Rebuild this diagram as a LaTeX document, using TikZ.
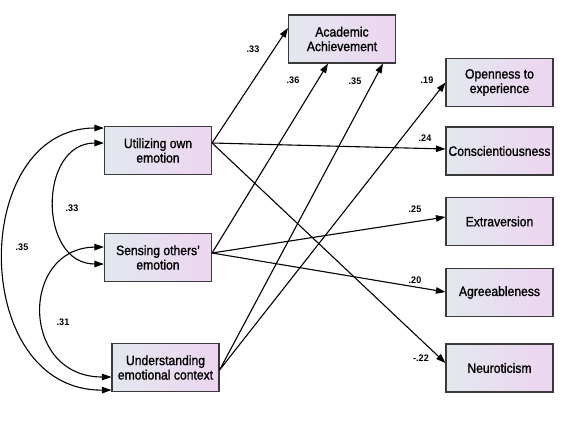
\documentclass[tikz,border=0pt]{standalone}
\usepackage{fontspec}
\setmainfont{Liberation Sans}[FakeStretch=0.9,FakeBold=1.2]
\newfontfamily\lblfont{Liberation Sans}[FakeStretch=0.95]
\usetikzlibrary{arrows.meta}
\definecolor{boxL}{HTML}{E2E8EE}
\definecolor{boxR}{HTML}{EDD5F1}
\definecolor{boxD}{HTML}{3A3A3A}
\tikzset{
  box/.style={draw=boxD, line width=1.1pt, left color=boxL, right color=boxR,
    minimum width=107pt, minimum height=48pt, inner sep=1pt, align=center,
    font=\fontsize{13.5}{14.5}\selectfont},
  path/.style={draw=black, line width=1.1pt, -{Triangle[length=9.5pt,width=6.5pt]}},
  cov/.style={draw=black, line width=1.1pt, {Triangle[length=9.5pt,width=6.5pt]}-{Triangle[length=9.5pt,width=6.5pt]}},
  lbl/.style={font=\lblfont\bfseries\fontsize{9.5}{10}\selectfont, inner sep=0pt}
}
\begin{document}
\begin{tikzpicture}[x=1pt,y=-1pt]
\useasboundingbox (0,0) rectangle (575,424);
% nodes
\node[box] (U) at (158,150.5) {Utilizing own\\emotion};
\node[box] (S) at (158,257.5) {Sensing others'\\emotion};
\node[box] (C) at (165.5,367.5) {Understanding\\emotional context};
\node[box] (A) at (342,39) {Academic\\Achievement};
\node[box] (O) at (499.5,82.5) {Openness to\\experience};
\node[box] (Co) at (499.5,151) {Conscientiousness};
\node[box] (E) at (499.5,221.5) {Extraversion};
\node[box] (Ag) at (499.5,292.5) {Agreeableness};
\node[box] (N) at (499.5,368) {Neuroticism};
% start points
\coordinate (uo) at ([yshift=7.5pt]U.east);
\coordinate (so) at ([yshift=4.5pt]S.east);
\coordinate (co) at ([yshift=-2.5pt]C.east);
% paths
\draw[path] (uo) -- ([yshift=11pt]A.west);
\draw[path] (so) -- ([xshift=-14pt]A.south);
\draw[path] (co) -- ([xshift=41pt]A.south);
\draw[path] (co) -- (O.west);
\draw[path] (uo) -- ([yshift=2pt]Co.west);
\draw[path] (uo) -- ([yshift=5pt]N.west);
\draw[path] (so) -- ([yshift=4.5pt]E.west);
\draw[path] (so) -- ([yshift=0.5pt]Ag.west);
% covariances
\draw[cov] ([yshift=22.5pt]U.west) .. controls (-31,128) and (-31,391) .. ([yshift=2pt]C.south west);
\draw[cov] ([yshift=7.5pt]U.west) .. controls (38,143) and (38,264) .. ([yshift=-6.5pt]S.west);
\draw[cov] ([yshift=10.5pt]S.west) .. controls (20,248) and (20,377) .. ([yshift=-9.5pt]C.west);
% labels
\node[lbl] (l1) at (253,49) {.33};
\node[lbl] (l2) at (293,80) {.36};
\node[lbl] (l3) at (355,81) {.35};
\node[lbl] (l4) at (427,80) {.19};
\node[lbl] (l5) at (425,138) {.24};
\node[lbl] (l6) at (415,209) {.25};
\node[lbl] (l7) at (415,280) {.20};
\node[lbl] (l8) at (421,358) {-.22};
\node[lbl] (l9) at (72,208) {.33};
\node[lbl] (l10) at (22,247) {.35};
\node[lbl] (l11) at (63,322) {.31};
\end{tikzpicture}
\end{document}
